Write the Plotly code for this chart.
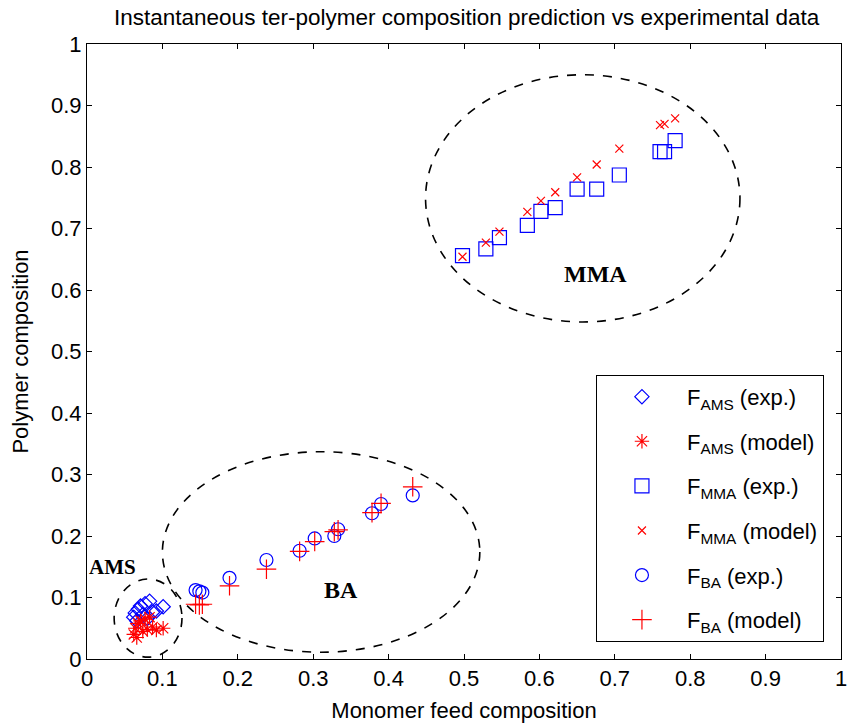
import plotly.graph_objects as go

# Monomer feed composition (x) and polymer composition (y) for each monomer
ams_feed = [0.062, 0.064, 0.066, 0.068, 0.071, 0.074, 0.077, 0.080, 0.083, 0.087, 0.092, 0.101]
ams_exp = [0.068, 0.075, 0.062, 0.081, 0.086, 0.072, 0.090, 0.066, 0.094, 0.076, 0.078, 0.085]
ams_model = [0.040, 0.050, 0.035, 0.058, 0.062, 0.045, 0.065, 0.048, 0.068, 0.052, 0.047, 0.050]

mma_feed = [0.498, 0.529, 0.547, 0.584, 0.602, 0.621, 0.650, 0.676, 0.706, 0.760, 0.766, 0.780]
mma_exp = [0.656, 0.667, 0.685, 0.705, 0.728, 0.734, 0.764, 0.764, 0.787, 0.825, 0.825, 0.843]
mma_model = [0.654, 0.677, 0.695, 0.727, 0.745, 0.759, 0.783, 0.804, 0.830, 0.868, 0.870, 0.879]

ba_feed = [0.144, 0.149, 0.153, 0.189, 0.238, 0.282, 0.302, 0.328, 0.333, 0.378, 0.390, 0.432]
ba_exp = [0.112, 0.110, 0.108, 0.132, 0.161, 0.176, 0.196, 0.200, 0.211, 0.237, 0.252, 0.266]
ba_model = [0.089, 0.088, 0.089, 0.119, 0.146, 0.175, 0.191, 0.207, 0.210, 0.238, 0.253, 0.280]

# Dashed region outlines: (name, x0, x1, y0, y1, label x, label y)
regions = [
    ("AMS", 0.036, 0.126, 0.003, 0.130, 0.034, 0.150),
    ("BA", 0.100, 0.521, 0.011, 0.337, 0.337, 0.112),
    ("MMA", 0.449, 0.866, 0.548, 0.950, 0.675, 0.626),
]
label_sizes = {"AMS": 21, "BA": 24, "MMA": 24}

x_ticks = [0, 0.1, 0.2, 0.3, 0.4, 0.5, 0.6, 0.7, 0.8, 0.9, 1]
tick_text = ["0", "0.1", "0.2", "0.3", "0.4", "0.5", "0.6", "0.7", "0.8", "0.9", "1"]

BLUE = "#0000ff"
RED = "#ff0000"
FONT = "Liberation Sans, Arial, sans-serif"

series = [
    ("F<sub>AMS</sub> (exp.)", ams_feed, ams_exp, "diamond-open", 11, BLUE),
    ("F<sub>AMS</sub> (model)", ams_feed, ams_model, "asterisk-open", 12, RED),
    ("F<sub>MMA</sub> (exp.)", mma_feed, mma_exp, "square-open", 14, BLUE),
    ("F<sub>MMA</sub> (model)", mma_feed, mma_model, "x-thin-open", 8, RED),
    ("F<sub>BA</sub> (exp.)", ba_feed, ba_exp, "circle-open", 13, BLUE),
    ("F<sub>BA</sub> (model)", ba_feed, ba_model, "cross-thin-open", 14, RED),
]

fig = go.Figure()
for i, (name, xs, ys, sym, size, color) in enumerate(series):
    fig.add_trace(go.Scatter(
        x=xs, y=ys, mode="markers", name=name, legendgroup=f"g{i}",
        marker=dict(symbol=sym, size=size, color=color,
                    line=dict(color=color, width=1.2)),
    ))

for name, x0, x1, y0, y1, lx, ly in regions:
    fig.add_shape(type="circle", xref="x", yref="y", x0=x0, x1=x1, y0=y0, y1=y1,
                  line=dict(color="black", width=1.6, dash="dash"))
    fig.add_annotation(x=lx, y=ly, xref="x", yref="y", text=f"<b>{name}</b>",
                       showarrow=False,
                       font=dict(family="Liberation Serif, Times New Roman, serif",
                                 size=label_sizes[name], color="black"))

axis_common = dict(
    range=[0, 1], tickvals=x_ticks, ticktext=tick_text,
    showline=True, linecolor="black", linewidth=1, mirror="ticks",
    ticks="inside", ticklen=5, tickcolor="black", showgrid=False, zeroline=False,
    tickfont=dict(family=FONT, size=22, color="black"),
)

fig.update_layout(
    width=854, height=726,
    margin=dict(l=87, r=7, t=44, b=67),
    paper_bgcolor="white", plot_bgcolor="white",
    title=dict(text="Instantaneous ter-polymer composition prediction vs experimental data",
               x=0.5465, xanchor="center", y=0.977, yanchor="middle",
               font=dict(family=FONT, size=22.5, color="black")),
    xaxis=dict(axis_common, title=dict(text="Monomer feed composition",
                                       font=dict(family=FONT, size=22, color="black"),
                                       standoff=12)),
    yaxis=dict(axis_common, title=dict(text="Polymer composition",
                                       font=dict(family=FONT, size=22, color="black"),
                                       standoff=16)),
    legend=dict(x=0.675, y=0.462, xanchor="left", yanchor="top",
                bordercolor="black", borderwidth=1, bgcolor="white",
                font=dict(family=FONT, size=22, color="black"),
                tracegroupgap=13, itemwidth=80),
    showlegend=True,
)

fig.write_html("out.html")
